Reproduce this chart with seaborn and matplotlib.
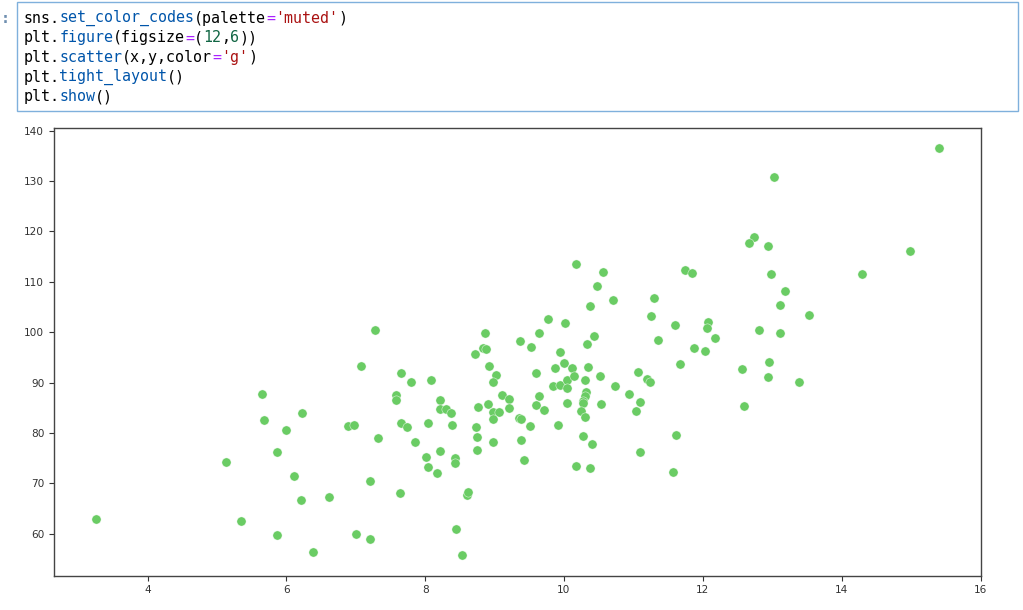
import matplotlib
matplotlib.use("Agg")
import matplotlib.pyplot as plt
import seaborn as sns

# scatter values
x = [3.26, 5.13, 5.35, 5.645, 5.68, 5.86, 5.99, 6.22, 6.11, 6.21, 5.86, 6.62, 6.39,
     6.89, 6.97, 7.07, 7.32, 7.20, 7.00, 7.21, 7.28, 7.655, 7.79, 8.09, 7.58, 7.58,
     7.655, 7.74, 7.86, 7.64, 8.04, 8.01, 8.04, 8.17, 8.21, 8.22, 8.21, 8.30, 8.37,
     8.39, 8.43, 8.43, 8.45, 8.535, 8.60, 8.62, 8.73, 8.75, 8.75, 8.765, 8.90, 8.92,
     9.015, 8.98, 8.98, 9.06, 8.98, 8.98, 9.11, 9.21, 9.21, 9.35, 9.375, 9.375, 9.43,
     9.505, 9.59, 9.64, 9.59, 9.71, 9.84, 9.94, 9.87, 10.00, 10.12, 10.05, 10.05,
     10.15, 10.04, 9.92, 10.35, 10.30, 10.32, 10.30, 10.28, 10.27, 10.24, 10.30,
     10.28, 10.40, 10.17, 10.37, 10.52, 10.53, 10.73, 10.93, 11.06, 11.19, 11.24,
     11.09, 11.04, 11.09, 11.57, 11.62, 11.67, 12.56, 12.96, 12.94, 13.39, 12.60,
     8.86, 8.83, 8.88, 8.72, 9.36, 9.525, 9.64, 9.775, 10.02, 9.94, 10.17, 10.56,
     10.48, 10.37, 10.71, 10.33, 10.43, 11.255, 11.29, 11.36, 11.60,
     15.40, 13.025, 12.73, 12.66, 12.94, 14.99, 14.29, 11.75, 11.84, 12.98, 13.19,
     13.11, 13.535, 12.08, 12.06, 12.81, 13.11, 12.18, 11.87, 12.03]
y = [63.0, 74.3, 62.6, 87.7, 82.5, 76.2, 80.5, 84.05, 71.55, 66.7, 59.8, 67.3, 56.35,
     81.3, 81.6, 93.2, 79.1, 70.5, 60.0, 58.9, 100.45, 91.85, 90.2, 90.47, 87.56, 86.56,
     81.93, 81.14, 78.23, 68.18, 82.07, 75.25, 73.2, 72.08, 76.38, 86.56, 84.78, 84.78,
     83.92, 81.6, 74.99, 74.13, 60.9, 55.74, 67.71, 68.24, 81.14, 79.29, 76.58, 85.24,
     85.7, 93.38, 91.59, 90.2, 84.12, 84.12, 82.73, 78.16, 87.56, 86.83, 85.04, 83.06,
     82.73, 78.63, 74.6, 81.34, 91.85, 87.36, 85.5, 84.58, 89.34, 89.54, 92.98, 93.97,
     92.98, 90.53, 88.88, 91.39, 85.97, 81.6, 93.18, 90.53, 88.22, 87.36, 86.43, 85.9,
     84.38, 83.19, 79.35, 77.77, 73.47, 73.0, 91.39, 85.7, 89.34, 87.75, 92.05, 90.73,
     90.07, 86.17, 84.38, 76.18, 72.28, 79.55, 93.64, 92.7, 94.04, 91.13, 90.2, 85.44,
     99.79, 96.82, 96.62, 95.63, 98.2, 97.08, 99.79, 102.7, 101.84, 96.16, 113.6,
     112.03, 109.12, 105.28, 106.34, 97.74, 99.33, 103.16, 106.8, 98.47, 101.38,
     136.56, 130.88, 118.84, 117.72, 117.05, 116.13, 111.56, 112.29, 111.83, 111.56,
     108.19, 105.48, 103.43, 102.1, 100.92, 100.45, 99.79, 98.87, 96.82, 96.35]

# notebook cell shown above the plot: (token, colour class) per line
code_lines = [
    [("sns.", "k"), ("set_color_codes", "fn"), ("(palette", "k"), ("=", "op"), ("'muted'", "str"), (")", "k")],
    [("plt.", "k"), ("figure", "fn"), ("(figsize", "k"), ("=", "op"), ("(", "k"), ("12", "num"), (",", "k"), ("6", "num"), ("))", "k")],
    [("plt.", "k"), ("scatter", "fn"), ("(x,y,color", "k"), ("=", "op"), ("'g'", "str"), (")", "k")],
    [("plt.", "k"), ("tight_layout", "fn"), ("()", "k")],
    [("plt.", "k"), ("show", "fn"), ("()", "k")],
]
code_colors = {"k": "#000000", "fn": "#0055aa", "op": "#aa22ff", "str": "#aa1111", "num": "#116644"}

sns.set_style("ticks")
sns.set_color_codes(palette="muted")

fig = plt.figure(figsize=(10.23, 6.10), dpi=100)

# code cell overlay in pixel coordinates
cax = fig.add_axes([0, 0, 1, 1])
cax.set_xlim(0, 1023)
cax.set_ylim(610, 0)
cax.axis("off")
cax.add_patch(plt.Rectangle((16.5, 2), 1001, 109, facecolor="white",
                            edgecolor="#7fb0dc", linewidth=1.0))
cax.text(5, 18.5, ":", color="#6f8fb0", fontsize=10.8, family="DejaVu Sans Mono",
         ha="center", va="center", fontweight="bold")
char_w = 9.0
for i, tokens in enumerate(code_lines):
    pos = 0
    for tok, kind in tokens:
        cax.text(23.3 + pos * char_w, 18.3 + i * 19.6, tok, color=code_colors[kind],
                 fontsize=10.8, family="DejaVu Sans Mono", ha="left", va="center")
        pos += len(tok)

# scatter plot
ax = fig.add_axes([54 / 1023, (610 - 575.7) / 610, 927 / 1023, 448.2 / 610])
sns.scatterplot(x=x, y=y, color="g", s=44, edgecolor="white", linewidth=0.3, ax=ax)
ax.set_xticks([4, 6, 8, 10, 12, 14, 16])
ax.set_yticks([60, 70, 80, 90, 100, 110, 120, 130, 140])
ax.tick_params(labelsize=7.6, labelcolor="#333333", length=3.5, width=0.8, color="#333333")
for sp in ax.spines.values():
    sp.set_color("#444444")
    sp.set_linewidth(1.0)

fig.savefig("out.png", dpi=100)
